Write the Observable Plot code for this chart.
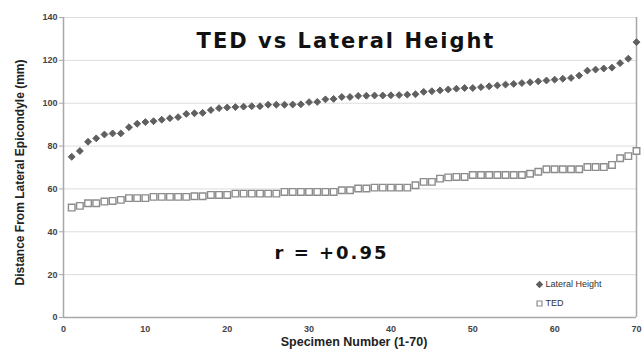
<!DOCTYPE html>
<html>
<head>
<meta charset="utf-8">
<script src="https://cdn.jsdelivr.net/npm/d3@7"></script>
<script src="https://cdn.jsdelivr.net/npm/@observablehq/plot@0.6"></script>
<style>
  html, body { margin: 0; padding: 0; background: #fff; }
  #chart { width: 642px; height: 349px; }
</style>
</head>
<body>
<div id="chart"></div>
<script>
// ---- Data ----
const specimen = d3.range(1, 71);
const lateralHeight = [
  75, 77.7, 82, 83.6, 85.4, 85.9, 85.9, 88.8, 90.4, 91.2,
  91.6, 92.3, 93, 93.5, 95, 95.3, 95.5, 96.8, 97.7, 98,
  98.2, 98.4, 98.6, 98.6, 99.3, 99.3, 99.3, 99.4, 99.5, 100.5,
  100.6, 101.8, 102, 102.9, 102.9, 103.4, 103.5, 103.6, 103.6, 103.7,
  103.8, 104, 104.2, 105.3, 105.6, 106, 106.4, 106.8, 107.1, 107.1,
  107.5, 107.9, 108.3, 108.7, 109, 109.4, 109.8, 110.2, 110.6, 111,
  111.4, 111.8, 112.9, 115.2, 115.7, 116.2, 116.6, 118.7, 120.8, 128.5
];
const ted = [
  51.3, 52.1, 53.3, 53.3, 54.1, 54.4, 54.9, 55.7, 55.7, 55.7,
  56.3, 56.3, 56.3, 56.3, 56.3, 56.6, 56.6, 57.2, 57.2, 57.2,
  57.8, 57.8, 57.8, 57.8, 57.8, 57.8, 58.6, 58.6, 58.6, 58.6,
  58.6, 58.6, 58.6, 59.4, 59.4, 60.2, 60.2, 60.6, 60.6, 60.6,
  60.6, 60.6, 61.7, 63.3, 63.3, 64.8, 65.4, 65.6, 65.6, 66.5,
  66.5, 66.5, 66.5, 66.5, 66.5, 66.5, 67.1, 68, 69.2, 69.2,
  69.2, 69.2, 69.2, 70.2, 70.2, 70.2, 71.2, 74.3, 75.3, 77.7
];
const seriesNames = ["Lateral Height", "TED"];
const xTicks = [0, 10, 20, 30, 40, 50, 60, 70];
const yTicks = [0, 20, 40, 60, 80, 100, 120, 140];
const title = "TED vs Lateral Height";
const annotation = "r = +0.95";
const xLabel = "Specimen Number (1-70)";
const yLabel = "Distance From Lateral Epicondyle (mm)";

const latData = specimen.map((s, i) => ({specimen: s, value: lateralHeight[i]}));
const tedData = specimen.map((s, i) => ({specimen: s, value: ted[i]}));

const axisGray = "#a8a8a8";
const tickText = "#444";

const chart = Plot.plot({
  width: 642,
  height: 349,
  marginLeft: 63,
  marginRight: 6,
  marginTop: 17,
  marginBottom: 32,
  style: {fontFamily: "'Liberation Sans', Arial, sans-serif", background: "#fff", overflow: "visible"},
  x: {domain: [0, 70]},
  y: {domain: [0, 140]},
  marks: [
    Plot.gridY(yTicks.filter(d => d > 0), {stroke: "#dcdcdc", strokeOpacity: 1, strokeWidth: 1}),
    Plot.ruleX([0], {stroke: axisGray, strokeWidth: 1.5}),
    Plot.ruleX([70], {stroke: axisGray, strokeWidth: 1.5}),
    Plot.ruleY([0], {stroke: axisGray, strokeWidth: 1.5}),
    Plot.axisY(yTicks, {tickSize: 4, tickPadding: 2, stroke: axisGray, fill: tickText, fontSize: 9, fontWeight: "bold", label: null}),
    Plot.axisX(xTicks, {tickSize: 0, tickPadding: 8, fill: tickText, fontSize: 9, fontWeight: "bold", label: null}),
    // series
    Plot.dot(tedData, {x: "specimen", y: "value", symbol: "square", r: 3.7, fill: "#fff", stroke: "#8c8c8c", strokeWidth: 1.4}),
    Plot.dot(latData, {x: "specimen", y: "value", symbol: "diamond2", r: 3.1, fill: "#5f5f5f", stroke: "#5f5f5f", strokeWidth: 1}),
    // title & annotation
    Plot.text([title], {frameAnchor: "top", dx: -4, dy: 24, text: d => d, fontSize: 21, fontWeight: "bold",
      fontFamily: "'DejaVu Sans', sans-serif", fill: "#111", lineAnchor: "middle", textAnchor: "middle"}),
    Plot.text([annotation], {frameAnchor: "top-left", dx: 268, dy: 236, text: d => d, fontSize: 18, fontWeight: "bold",
      fontFamily: "'DejaVu Sans', sans-serif", fill: "#111", lineAnchor: "middle", textAnchor: "middle"}),
    // axis titles
    Plot.text([xLabel], {frameAnchor: "bottom", dx: 4, dy: 24.5, text: d => d, fontSize: 12.5, fontWeight: "bold",
      fill: "#222", lineAnchor: "middle", textAnchor: "middle"}),
    Plot.text([yLabel], {frameAnchor: "left", dx: -43, dy: 5, rotate: -90, text: d => d, fontSize: 12, fontWeight: "bold",
      fill: "#222", lineAnchor: "middle", textAnchor: "middle"}),
    // legend
    Plot.dot([seriesNames[0]], {frameAnchor: "bottom-right", dx: -97, dy: -33, symbol: "diamond2", r: 2.4, fill: "#5f5f5f", stroke: "#5f5f5f"}),
    Plot.text([seriesNames[0]], {frameAnchor: "bottom-right", dx: -91, dy: -33, text: d => d, fontSize: 9,
      fill: "#333", lineAnchor: "middle", textAnchor: "start"}),
    Plot.dot([seriesNames[1]], {frameAnchor: "bottom-right", dx: -97, dy: -14, symbol: "square", r: 2.8, fill: "#fff", stroke: "#8c8c8c", strokeWidth: 1.2}),
    Plot.text([seriesNames[1]], {frameAnchor: "bottom-right", dx: -91, dy: -14, text: d => d, fontSize: 9,
      fill: "#333", lineAnchor: "middle", textAnchor: "start"})
  ]
});
chart.querySelectorAll("text").forEach(t => {
  const s = t.textContent;
  if (s === title) t.setAttribute("letter-spacing", "2");
  if (s === annotation) t.setAttribute("letter-spacing", "2");
});
document.getElementById("chart").append(chart);
</script>
</body>
</html>
